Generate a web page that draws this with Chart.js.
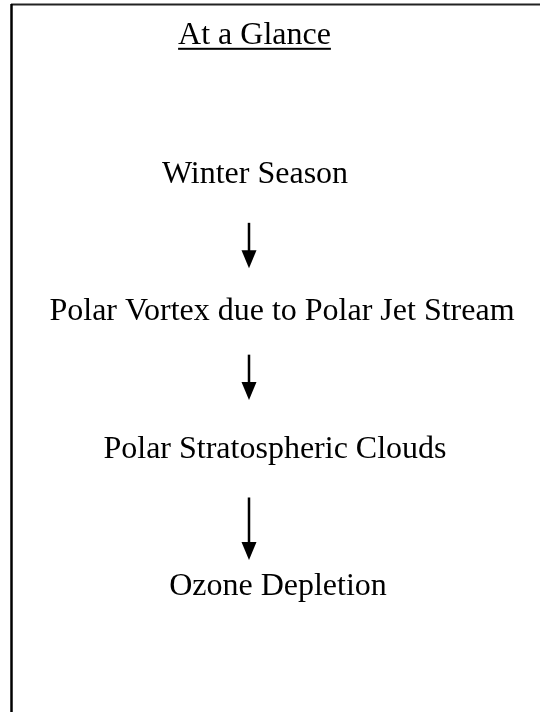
<!DOCTYPE html>
<html>
<head>
<meta charset="utf-8">
<script src="https://cdn.jsdelivr.net/npm/chart.js@4/dist/chart.umd.min.js"></script>
<style>
  html, body { margin: 0; padding: 0; background: #fff; }
  #wrap { width: 540px; height: 712px; }
</style>
</head>
<body>
<div id="wrap"><canvas id="flow"></canvas></div>
<script>
// flowchart content
const title = "At a Glance";
const steps = [
  "Winter Season",
  "Polar Vortex due to Polar Jet Stream",
  "Polar Stratospheric Clouds",
  "Ozone Depletion",
];
const stepRows = [0, 1, 2, 3];
const titleRow = -1.01;

// layout in scale units (x: 0..540, y: row index)
const stepCenters = [255, 282, 275, 278];
const titleCenter = 254.5;
const arrowX = 249;
const arrowSpans = [[0.29, 0.62], [1.25, 1.58], [2.29, 2.745]];

const font = "32px 'Liberation Serif', 'Times New Roman', serif";

const flowPlugin = {
  id: "flow",
  afterDatasetsDraw(chart) {
    const { ctx, scales } = chart;
    const xs = scales.x, ys = scales.y;
    ctx.save();

    // frame (top + left edges)
    ctx.strokeStyle = "#222";
    ctx.lineWidth = 2;
    ctx.beginPath();
    ctx.moveTo(11, 4.5);
    ctx.lineTo(540, 4.5);
    ctx.stroke();
    ctx.strokeStyle = "#000";
    ctx.lineWidth = 2.5;
    ctx.beginPath();
    ctx.moveTo(11.5, 4);
    ctx.lineTo(11.5, 712);
    ctx.stroke();

    ctx.fillStyle = "#000";
    ctx.font = font;
    ctx.textAlign = "center";
    ctx.textBaseline = "alphabetic";

    // title with underline
    const tx = xs.getPixelForValue(titleCenter);
    const ty = ys.getPixelForValue(titleRow);
    ctx.fillText(title, tx, ty);
    const tw = ctx.measureText(title).width;
    ctx.fillRect(tx - tw / 2, ty + 3.5, tw, 2);

    // steps
    const meta = chart.getDatasetMeta(0);
    meta.data.forEach((pt, i) => {
      ctx.fillText(steps[i], pt.x, pt.y);
    });

    // arrows
    const ax = xs.getPixelForValue(arrowX);
    arrowSpans.forEach(([a, b]) => {
      const y0 = ys.getPixelForValue(a);
      const y1 = ys.getPixelForValue(b);
      const headH = 18;
      ctx.fillRect(ax - 1.25, y0, 2.5, y1 - y0 - headH + 2);
      ctx.beginPath();
      ctx.moveTo(ax - 7.5, y1 - headH);
      ctx.lineTo(ax + 7.5, y1 - headH);
      ctx.lineTo(ax, y1);
      ctx.closePath();
      ctx.fill();
    });

    ctx.restore();
  },
};

new Chart(document.getElementById("flow"), {
  type: "scatter",
  data: {
    datasets: [
      {
        label: "",
        data: steps.map((s, i) => ({ x: stepCenters[i], y: stepRows[i] })),
        pointRadius: 0,
        pointHoverRadius: 0,
      },
    ],
  },
  options: {
    responsive: true,
    maintainAspectRatio: false,
    animation: false,
    events: [],
    layout: { padding: 0 },
    plugins: {
      legend: { display: false },
      tooltip: { enabled: false },
    },
    scales: {
      x: { type: "linear", min: 0, max: 540, display: false },
      y: { type: "linear", min: -1.3326, max: 3.852, reverse: true, display: false },
    },
  },
  plugins: [flowPlugin],
});
</script>
</body>
</html>
